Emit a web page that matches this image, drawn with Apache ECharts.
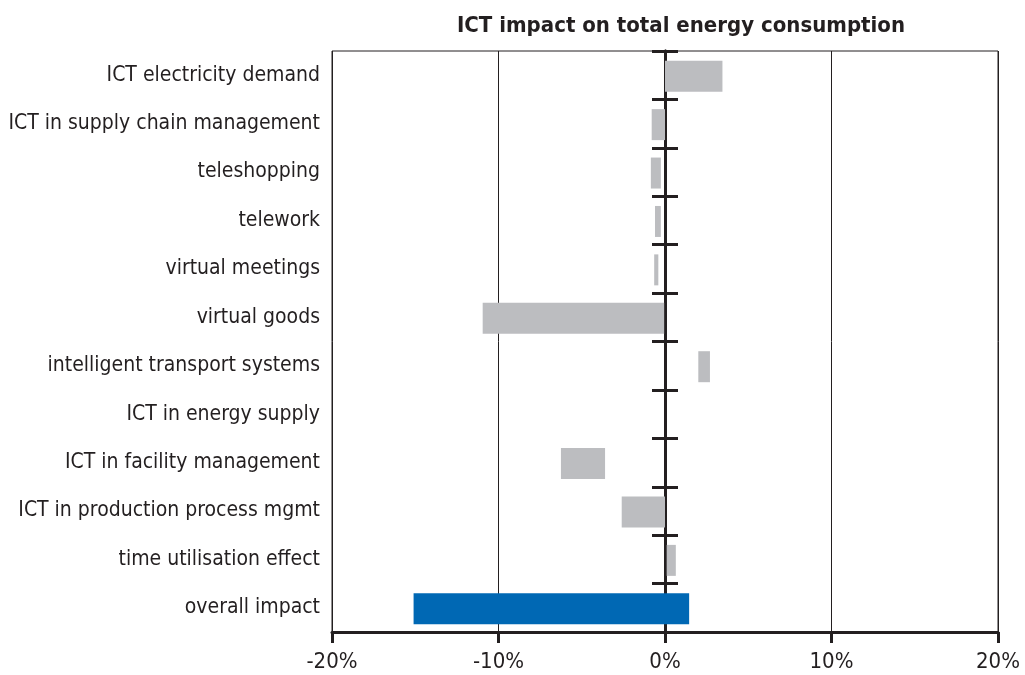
<!DOCTYPE html>
<html><head><meta charset="utf-8">
<script src="https://cdn.jsdelivr.net/npm/echarts@6/dist/echarts.min.js"></script>
<style>html,body{margin:0;padding:0;background:#fff}#c{width:1025px;height:675px}</style>
</head><body><div id="c"></div>
<script>
const categories = ['ICT electricity demand','ICT in supply chain management','teleshopping','telework','virtual meetings','virtual goods','intelligent transport systems','ICT in energy supply','ICT in facility management','ICT in production process mgmt','time utilisation effect','overall impact'];
const startValues = [0, -0.8, -0.85, -0.6, -0.65, -10.95, 2.0, null, -6.25, -2.6, 0.1, -15.1];
const endValues = [3.45, 0, -0.25, -0.25, -0.4, -0.05, 2.7, null, -3.6, 0, 0.65, 1.45];
const highlight = [0,0,0,0,0,0,0,0,0,0,0,1];
const xTicks = [-20, -10, 0, 10, 20];

const FONT = "'DejaVu Sans Condensed', 'Liberation Sans Narrow', 'Liberation Sans', sans-serif";
const INK = '#231f20';
const chart = echarts.init(document.getElementById('c'), null, {renderer:'canvas'});
const data = categories.map((c,i)=> startValues[i]==null ? [i, null, null, 0] : [i, startValues[i], endValues[i], highlight[i]]);
const catAxisBase = {type:'category', data:categories, inverse:true};
chart.setOption({
  animation:false,
  title:{text:'ICT impact on total energy consumption', left:676, top:10, textAlign:'center',
    textStyle:{fontFamily:FONT, fontWeight:'bold', fontSize:22, color:INK}},
  grid:{left:332, right:27, top:51, bottom:43, show:true, borderColor:INK, borderWidth:1, containLabel:false, outerBoundsMode:'none'},
  xAxis:{type:'value', min:xTicks[0], max:xTicks[xTicks.length-1], interval:10,
    axisLine:{show:true, onZero:false, lineStyle:{color:INK, width:3}},
    axisTick:{show:true, length:11, lineStyle:{color:INK, width:3}},
    axisLabel:{formatter:'{value}%', fontFamily:FONT, fontSize:22, color:INK, margin:19},
    splitLine:{show:true, lineStyle:{color:INK, width:1}}},
  yAxis:[
    Object.assign({}, catAxisBase, {position:'left', axisLine:{show:false, onZero:false}, axisTick:{show:false},
      axisLabel:{fontFamily:FONT, fontSize:21, color:INK, margin:12, padding:[6,0,0,0]}, splitLine:{show:false}}),
    Object.assign({}, catAxisBase, {position:'left', axisLine:{show:true, onZero:true, onZeroAxisIndex:0, lineStyle:{color:INK, width:3}},
      axisTick:{show:true, length:13, inside:false, lineStyle:{color:INK, width:3}}, axisLabel:{show:false}, splitLine:{show:false}}),
    Object.assign({}, catAxisBase, {position:'right', axisLine:{show:true, onZero:true, onZeroAxisIndex:0, lineStyle:{color:INK, width:3}},
      axisTick:{show:true, length:13, inside:false, lineStyle:{color:INK, width:3}}, axisLabel:{show:false}, splitLine:{show:false}})
  ],
  series:[{
    type:'custom', yAxisIndex:0, data:data, encode:{x:[1,2], y:0},
    renderItem:function(params, api){
      if (api.value(1) == null || isNaN(api.value(1))) return null;
      const a = api.coord([api.value(1), api.value(0)]);
      const b = api.coord([api.value(2), api.value(0)]);
      const h = api.size([0,1])[1]*0.64;
      return {type:'rect', shape:{x:Math.min(a[0],b[0]), y:a[1]-h/2+1, width:Math.abs(b[0]-a[0]), height:h},
        style:{fill: api.value(3) ? '#0068b4' : '#bcbdc0'}};
    }
  }]
});
</script></body></html>
